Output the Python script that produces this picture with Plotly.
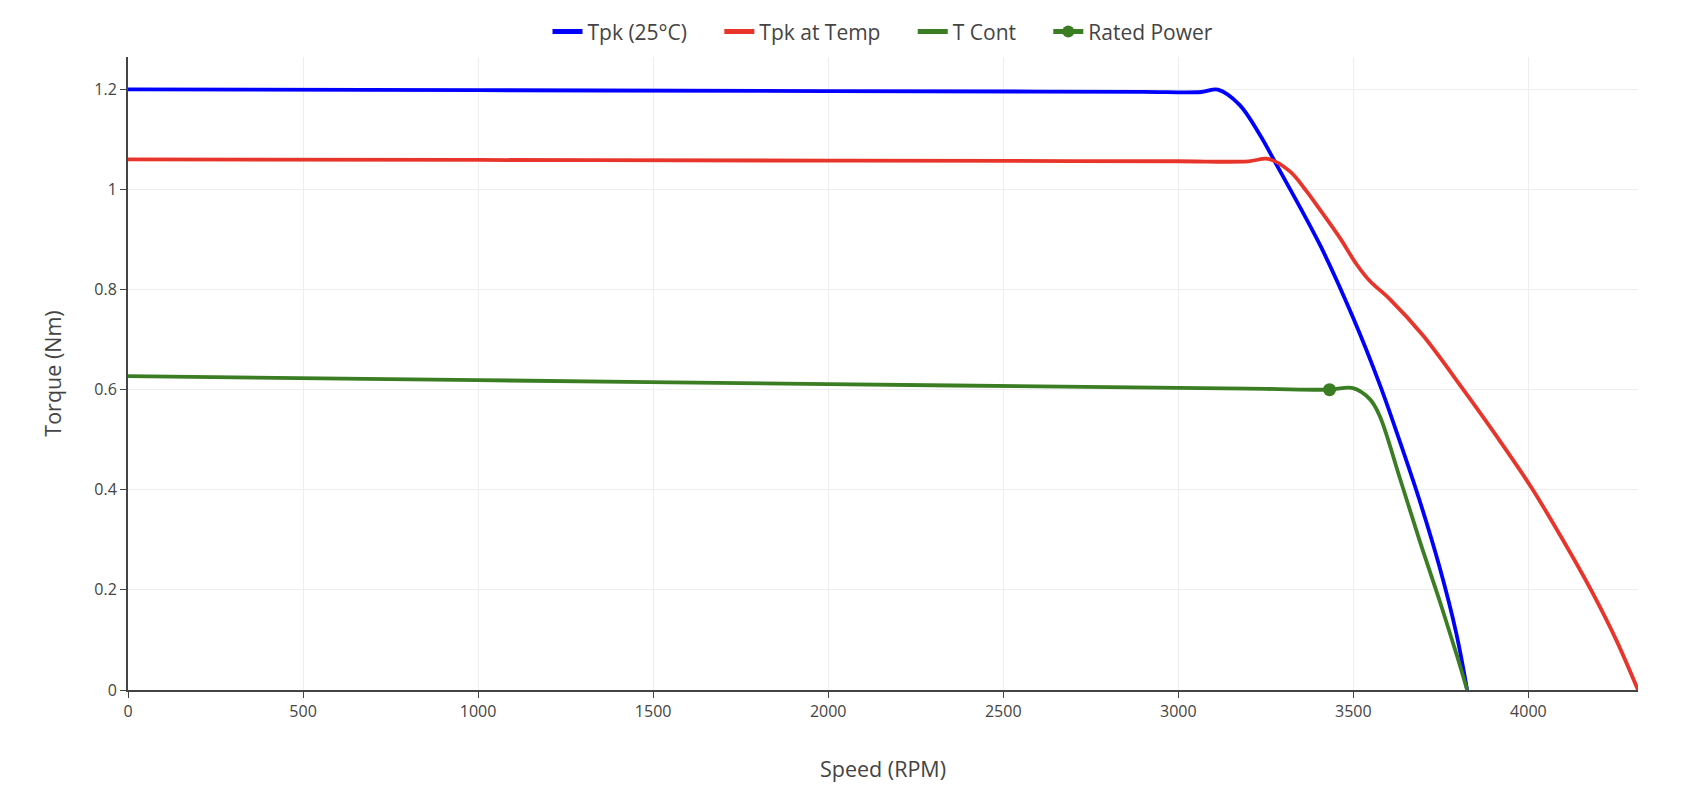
import plotly.graph_objects as go

# Data (Speed RPM, Torque Nm)
tpk25_speed = [0, 1000, 2000, 2600, 2900, 3066, 3113, 3175, 3232, 3280, 3404, 3499, 3575, 3632, 3689, 3746, 3794, 3825]
tpk25_torque = [1.200, 1.1982, 1.1965, 1.1955, 1.1950, 1.1946, 1.1995, 1.169, 1.110, 1.050, 0.890, 0.744, 0.611, 0.498, 0.379, 0.246, 0.113, 0.0]

tpktemp_speed = [0, 1000, 2000, 2700, 3000, 3200, 3256, 3318, 3366, 3404, 3461, 3509, 3547, 3604, 3699, 3813, 3908, 4008, 4099, 4184, 4251, 4313]
tpktemp_torque = [1.060, 1.0588, 1.0575, 1.0566, 1.0562, 1.056, 1.061, 1.0365, 0.9966, 0.960, 0.9036, 0.8505, 0.817, 0.781, 0.708, 0.601, 0.508, 0.405, 0.299, 0.193, 0.0997, 0.0]

tcont_speed = [0, 1000, 2000, 3000, 3250, 3432, 3499, 3547, 3575, 3632, 3689, 3746, 3794, 3825]
tcont_torque = [0.627, 0.619, 0.611, 0.6035, 0.6015, 0.600, 0.603, 0.581, 0.548, 0.425, 0.299, 0.179, 0.073, 0.0]

rated_speed = [3432]
rated_torque = [0.600]

series_names = ["Tpk (25°C)", "Tpk at Temp", "T Cont", "Rated Power"]

BLUE = "#0000ff"
RED = "#e8352b"
GREEN = "#3a7d23"
LW = 3.8
PAD = "\u00a0" * 5  # extra legend spacing between entries

fig = go.Figure()
fig.add_trace(go.Scatter(x=tpk25_speed, y=tpk25_torque, mode="lines", name=series_names[0] + PAD,
                         line=dict(color=BLUE, width=LW, shape="spline")))
fig.add_trace(go.Scatter(x=tpktemp_speed, y=tpktemp_torque, mode="lines", name=series_names[1] + PAD,
                         line=dict(color=RED, width=LW, shape="spline")))
fig.add_trace(go.Scatter(x=tcont_speed, y=tcont_torque, mode="lines", name=series_names[2] + PAD,
                         line=dict(color=GREEN, width=LW, shape="spline")))
fig.add_trace(go.Scatter(x=rated_speed, y=rated_torque, mode="lines+markers", name=series_names[3],
                         line=dict(color=GREEN, width=LW),
                         marker=dict(color=GREEN, size=13)))

fig.update_layout(
    width=1688, height=795,
    paper_bgcolor="white", plot_bgcolor="white",
    margin=dict(l=128, r=50, t=56, b=105),
    font=dict(family="Open Sans", size=16, color="#444"),
    legend=dict(orientation="h", x=0.5, xanchor="center", y=1.038, yanchor="middle",
                font=dict(size=21, color="#444"), itemsizing="constant"),
    xaxis=dict(
        title=dict(text="Speed (RPM)", font=dict(size=21.5, color="#444"), standoff=41),
        range=[0, 4313], tickvals=[0, 500, 1000, 1500, 2000, 2500, 3000, 3500, 4000],
        showgrid=True, gridcolor="#eeeeee", gridwidth=1,
        showline=True, linecolor="#444", linewidth=2,
        ticks="outside", ticklen=6, tickcolor="#444", tickwidth=1,
        zeroline=False, tickfont=dict(size=16, color="#444"),
    ),
    yaxis=dict(
        title=dict(text="Torque (Nm)", font=dict(size=21.5, color="#444"), standoff=27),
        range=[0, 1.2645], tickvals=[0, 0.2, 0.4, 0.6, 0.8, 1.0, 1.2],
        ticktext=["0", "0.2", "0.4", "0.6", "0.8", "1", "1.2"],
        showgrid=True, gridcolor="#eeeeee", gridwidth=1,
        showline=True, linecolor="#444", linewidth=2,
        ticks="outside", ticklen=6, tickcolor="#444", tickwidth=1,
        zeroline=False, tickfont=dict(size=16, color="#444"),
    ),
)

fig.write_html("out.html")
